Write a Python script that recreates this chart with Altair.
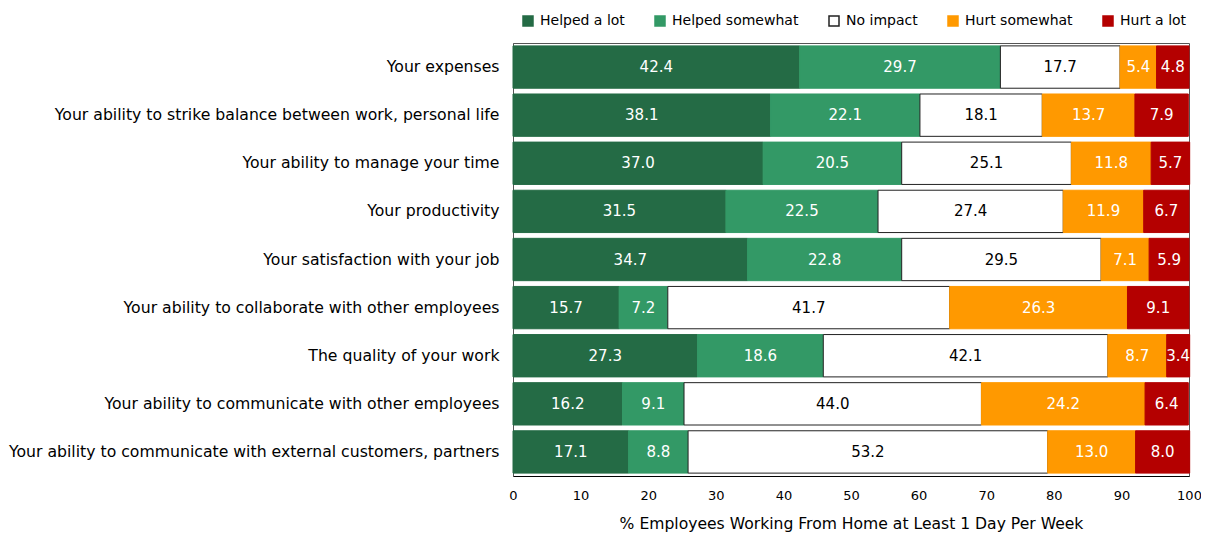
import altair as alt
import pandas as pd

items = [
    "Your expenses",
    "Your ability to strike balance between work, personal life",
    "Your ability to manage your time",
    "Your productivity",
    "Your satisfaction with your job",
    "Your ability to collaborate with other employees",
    "The quality of your work",
    "Your ability to communicate with other employees",
    "Your ability to communicate with external customers, partners",
]
categories = ["Helped a lot", "Helped somewhat", "No impact", "Hurt somewhat", "Hurt a lot"]
helped_lot = [42.4, 38.1, 37.0, 31.5, 34.7, 15.7, 27.3, 16.2, 17.1]
helped_some = [29.7, 22.1, 20.5, 22.5, 22.8, 7.2, 18.6, 9.1, 8.8]
no_impact = [17.7, 18.1, 25.1, 27.4, 29.5, 41.7, 42.1, 44.0, 53.2]
hurt_some = [5.4, 13.7, 11.8, 11.9, 7.1, 26.3, 8.7, 24.2, 13.0]
hurt_lot = [4.8, 7.9, 5.7, 6.7, 5.9, 9.1, 3.4, 6.4, 8.0]
x_ticks = [0, 10, 20, 30, 40, 50, 60, 70, 80, 90, 100]

fills = ["#246b45", "#339966", "#ffffff", "#ff9900", "#b40000"]
strokes = ["#246b45", "#339966", "#222222", "#ff9900", "#b40000"]

series = [helped_lot, helped_some, no_impact, hurt_some, hurt_lot]
rows = []
for ci, (cat, vals) in enumerate(zip(categories, series)):
    for it, v in zip(items, vals):
        rows.append({"item": it, "category": cat, "value": v, "order": ci})
df = pd.DataFrame(rows)

FONT = "DejaVu Sans"

base = alt.Chart(df).transform_stack(
    stack="value",
    groupby=["item"],
    sort=[alt.SortField("order", order="ascending")],
    as_=["x0", "x1"],
).transform_calculate(mid="(datum.x0 + datum.x1) / 2")

yenc = alt.Y(
    "item:N",
    sort=items,
    title=None,
    scale=alt.Scale(paddingInner=0.12, paddingOuter=0.06),
    axis=alt.Axis(ticks=False, labelPadding=14, labelFontSize=15.7, labelFont=FONT,
                  labelColor="#000", domainColor="#555", labelLimit=600),
)

leg = alt.Legend(
    title=None, orient="none", direction="horizontal", legendX=8, legendY=-29,
    symbolType="square", symbolSize=100, labelFontSize=14, labelFont=FONT,
    labelColor="#000", columnPadding=27, labelOffset=5, padding=0,
)

bars = base.mark_bar(strokeWidth=1).encode(
    x=alt.X("x0:Q", scale=alt.Scale(domain=[0, 100], nice=False),
            axis=alt.Axis(values=x_ticks, ticks=False, grid=False, labelPadding=13,
                          labelFlush=False, labelOverlap=False,
                          labelFontSize=13, labelFont=FONT, labelColor="#000",
                          domainColor="#000",
                          title="% Employees Working From Home at Least 1 Day Per Week",
                          titleFontSize=15.6, titleFont=FONT, titleFontWeight="normal",
                          titleColor="#000", titlePadding=14)),
    x2="x1:Q",
    y=yenc,
    fill=alt.Fill("category:N", scale=alt.Scale(domain=categories, range=fills), legend=leg),
    stroke=alt.Stroke("category:N", scale=alt.Scale(domain=categories, range=strokes), legend=leg),
)

labels = base.mark_text(fontSize=15, font=FONT).encode(
    x=alt.X("mid:Q"),
    y=alt.Y("item:N", sort=items),
    text=alt.Text("value:Q", format=".1f"),
    color=alt.condition("datum.category === 'No impact'", alt.value("#000000"), alt.value("#ffffff")),
)

chart = alt.layer(bars, labels).properties(
    width=676, height=433,
    autosize=alt.AutoSizeParams(type="none"),
    padding={"left": 505, "top": 35, "right": 12, "bottom": 58},
).configure_view(stroke="#555", strokeWidth=1)

chart.save("out.html", embed_options={"renderer": "svg", "actions": False})
